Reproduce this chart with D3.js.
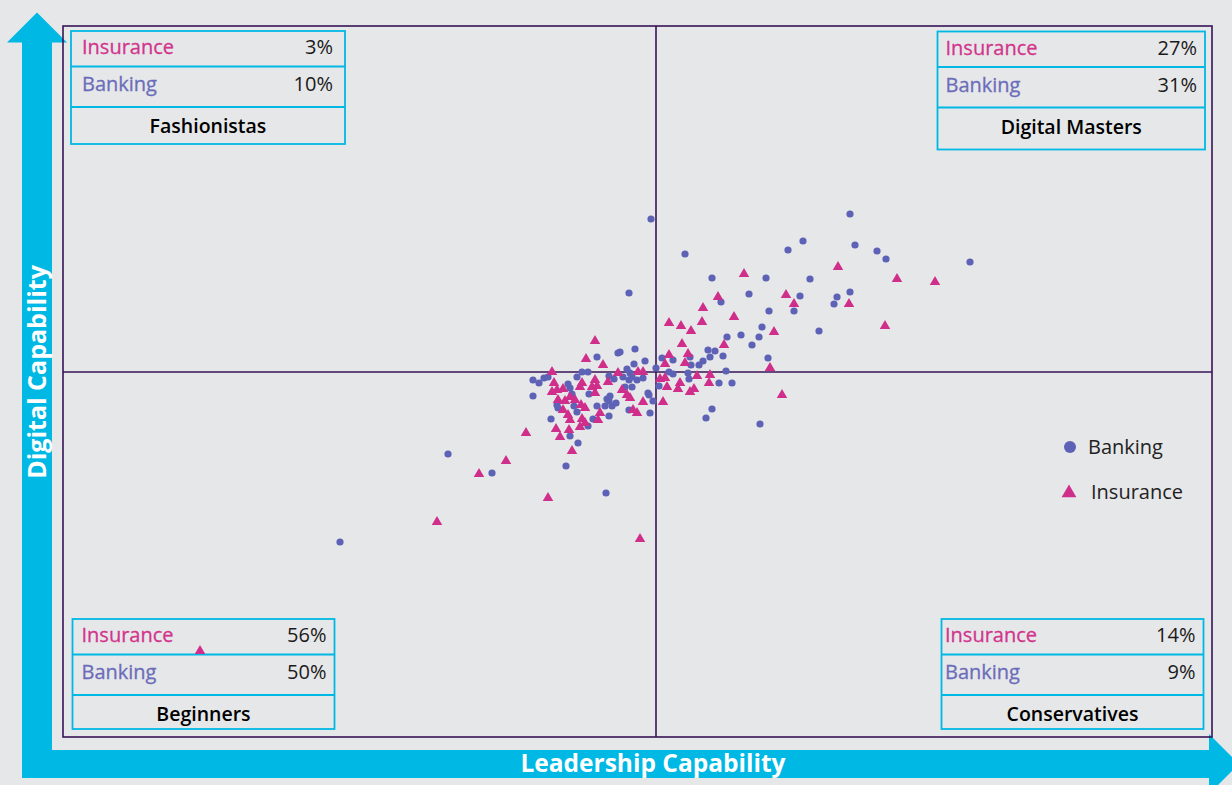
<!DOCTYPE html>
<html>
<head>
<meta charset="utf-8">
<script src="https://cdn.jsdelivr.net/npm/d3@7"></script>
<style>
  html, body { margin: 0; padding: 0; background: #e6e7e9; }
  svg { display: block; }
  text { font-family: "Open Sans", "Noto Sans", sans-serif; }
</style>
</head>
<body>
<svg id="chart" width="1232" height="785"></svg>
<script>
// ---------------- DATA ----------------
// Axis domains (index scores; 0 = quadrant divider)
const xDomain = [-59.3, 55.6];   // Leadership Capability
const yDomain = [-36.5, 34.6];   // Digital Capability
const xDivider = 0;
const yDivider = 0;

const axisLabelX = "Leadership Capability";
const axisLabelY = "Digital Capability";

const seriesNames = ["Banking", "Insurance"];

// Quadrants: order TL, TR, BL, BR
const quadrantNames = ["Fashionistas", "Digital Masters", "Beginners", "Conservatives"];
const insuranceShare = [3, 27, 56, 14];
const bankingShare = [10, 31, 50, 9];

// Banking firms: [leadership, digital]
const bankingX = [-0.5,19.4,14.7,13.2,19.9,22.1,23.0,31.4,2.9,5.6,11.0,15.4,9.3,14.4,18.1,19.4,17.8,6.5,13.8,11.3,
  10.6,16.3,10.3,8.5,7.1,9.6,5.2,5.9,6.7,5.4,11.2,4.7,4.3,3.5,3.4,1.7,0.6,-1.1,0.0,1.3,
  1.7,3.2,7.0,3.3,6.3,7.6,-1.3,0.3,-0.8,-0.7,-0.3,-0.6,5.6,5.0,10.4,-20.8,-16.4,-9.0,-7.8,-8.6,
  -10.5,-12.3,-12.3,-11.7,-11.2,-10.8,-9.8,-8.8,-8.6,-7.9,-7.4,-6.8,-5.9,-3.8,-3.6,-2.1,-2.2,-2.9,-2.6,-3.3,
  -2.7,-2.4,-1.9,-4.7,-4.2,-8.4,-8.2,-7.9,-6.7,-5.9,-5.1,-4.9,-4.6,-4.7,-4.4,-4.0,-4.7,-6.3,-6.8,-2.4,
  -3.1,-2.7,-9.9,-31.6,-5.0,-2.7];
const bankingY = [15.3,15.8,13.1,12.2,12.7,12.1,11.3,11.0,11.8,9.4,9.4,9.3,7.8,7.6,7.5,8.0,6.8,7.0,6.1,6.1,
  4.5,4.1,3.5,3.7,3.5,2.7,2.2,2.1,1.6,1.5,1.4,1.1,0.7,0.7,1.5,1.2,1.4,1.1,0.4,0.0,
  -0.2,-0.1,0.1,-0.7,-1.1,-1.1,-0.6,-1.4,-2.1,-2.3,-2.9,-4.1,-3.7,-4.6,-5.2,-8.2,-10.1,-9.4,-7.1,-6.4,
  -4.7,-2.4,-0.8,-1.1,-0.6,-0.5,-3.6,-1.2,-1.6,-0.5,0.0,0.0,1.5,1.9,2.0,2.3,0.8,0.3,-0.1,-0.5,
  -0.8,-0.5,-0.8,-0.4,-0.7,-2.2,-3.4,-4.0,-2.2,-3.4,-3.4,-2.7,-2.4,-2.9,-3.4,-3.1,-4.4,-4.7,-5.4,-1.5,
  -1.5,-3.8,-3.3,-17.0,-12.1,7.9];

// Insurance firms: [leadership, digital]
const insuranceX = [8.8,18.2,24.1,27.9,6.2,13.0,13.8,19.3,4.7,7.8,22.9,1.3,2.5,3.5,4.6,11.8,2.6,6.8,3.2,1.3,
  2.9,0.9,11.4,-1.3,4.1,5.4,0.4,0.9,2.4,1.1,2.2,5.3,3.8,3.4,12.6,-1.3,0.7,
  -6.1,-7.0,-5.3,-10.4,-10.2,-9.9,-10.4,-9.3,-9.8,-9.1,-8.6,-8.1,-7.6,-7.4,-6.1,-5.9,-6.1,-6.4,-4.8,-3.8,
  -3.4,-2.9,-2.6,-1.8,-7.5,-7.1,-9.3,-5.6,-5.8,-2.3,-1.9,-8.8,-8.6,-7.4,-7.6,-7.1,-10.0,-9.6,-8.7,-13.0,
  -8.4,-15.0,-17.7,-21.9,-10.8,-1.6,-45.6];
const insuranceY = [9.8,10.5,9.3,9.0,7.5,7.7,6.8,6.8,6.4,5.5,4.6,4.9,4.6,4.1,5.0,4.0,2.8,2.7,1.8,1.7,
  0.9,0.8,0.4,0.0,-0.4,-0.3,-0.7,-0.6,-1.1,-1.5,-1.7,-1.1,-1.7,-2.0,-2.3,-3.0,-3.0,
  3.1,1.3,0.7,0.0,-1.1,-1.8,-2.0,-1.7,-2.8,-2.9,-2.5,-2.8,-1.5,-1.1,-0.8,-1.4,-2.1,-1.5,-1.0,-0.1,
  -1.8,-2.3,-2.6,0.0,-3.3,-3.6,-3.8,-4.1,-4.8,-3.8,-4.1,-4.3,-4.8,-4.7,-5.5,-5.1,-5.7,-6.5,-5.8,-6.1,
  -7.9,-8.9,-10.2,-15.0,-12.6,-16.7,-27.9];

// ---------------- STYLE / LAYOUT ----------------
const W = 1232, H = 785;
const plot = { left: 63, top: 26, right: 1212, bottom: 737 };
const COL = {
  bg: "#e6e7e9",
  cyan: "#00b8e4",
  frame: "#371556",
  banking: "#5d62b6",
  insurance: "#cf2e8a",
  bankingText: "#6b6db9",
  insuranceText: "#d2358c",
  text: "#1a1a1a"
};

const svg = d3.select("#chart");
svg.append("rect").attr("width", W).attr("height", H).attr("fill", COL.bg);

const x = d3.scaleLinear().domain(xDomain).range([plot.left, plot.right]);
const y = d3.scaleLinear().domain(yDomain).range([plot.bottom, plot.top]);

// ---- Arrows ----
const arrows = svg.append("g");
arrows.append("rect").attr("x", 22).attr("y", 41).attr("width", 30).attr("height", 737).attr("fill", COL.cyan);
arrows.append("path").attr("d", "M7,42.5 L67,42.5 L37,12.5 Z").attr("fill", COL.cyan);
arrows.append("rect").attr("x", 22).attr("y", 750).attr("width", 1190).attr("height", 28).attr("fill", COL.cyan);
arrows.append("path").attr("d", "M1209,734 L1209,794 L1239,764 Z").attr("fill", COL.cyan);

arrows.append("text")
  .attr("x", 653).attr("y", 772)
  .attr("text-anchor", "middle")
  .attr("fill", "#fff").attr("font-weight", 700).attr("font-size", 24.5)
  .text(axisLabelX);
arrows.append("text")
  .attr("transform", "translate(46,372) rotate(-90)")
  .attr("text-anchor", "middle")
  .attr("fill", "#fff").attr("font-weight", 700).attr("font-size", 25)
  .text(axisLabelY);

// ---- Plot frame & dividers ----
const g = svg.append("g");
g.append("rect")
  .attr("x", plot.left).attr("y", plot.top)
  .attr("width", plot.right - plot.left).attr("height", plot.bottom - plot.top)
  .attr("fill", "none").attr("stroke", COL.frame).attr("stroke-width", 1.6);
g.append("line")
  .attr("x1", x(xDivider)).attr("x2", x(xDivider))
  .attr("y1", plot.top).attr("y2", plot.bottom)
  .attr("stroke", COL.frame).attr("stroke-width", 1.6);
g.append("line")
  .attr("x1", plot.left).attr("x2", plot.right)
  .attr("y1", y(yDivider)).attr("y2", y(yDivider))
  .attr("stroke", COL.frame).attr("stroke-width", 1.6);

// ---- Quadrant boxes ----
const boxLayout = [
  { x: 71, y: 31, w: 274, h: 113, padL: 11, padR: 12 },
  { x: 937.5, y: 31.5, w: 267.5, h: 118, padL: 8, padR: 8 },
  { x: 72.5, y: 619, w: 262, h: 110, padL: 9, padR: 8 },
  { x: 941.5, y: 619, w: 262, h: 110, padL: 3.5, padR: 8 }
];
quadrantNames.forEach((name, i) => {
  const b = boxLayout[i];
  const bg = g.append("g");
  bg.append("rect").attr("x", b.x).attr("y", b.y).attr("width", b.w).attr("height", b.h)
    .attr("fill", COL.bg).attr("stroke", COL.cyan).attr("stroke-width", 1.8);
  [35.5, 76].forEach(dy => {
    bg.append("line").attr("x1", b.x).attr("x2", b.x + b.w)
      .attr("y1", b.y + dy).attr("y2", b.y + dy)
      .attr("stroke", COL.cyan).attr("stroke-width", 1.8);
  });
  const rows = [
    { label: seriesNames[1], val: insuranceShare[i], col: COL.insuranceText, dy: 23 },
    { label: seriesNames[0], val: bankingShare[i], col: COL.bankingText, dy: 60 }
  ];
  rows.forEach(r => {
    bg.append("text").attr("x", b.x + b.padL).attr("y", b.y + r.dy)
      .attr("font-size", 20).attr("font-weight", 500).attr("fill", r.col)
      .attr("stroke", r.col).attr("stroke-width", 0.3).text(r.label);
    bg.append("text").attr("x", b.x + b.w - b.padR).attr("y", b.y + r.dy)
      .attr("text-anchor", "end").attr("font-size", 20).attr("fill", COL.text).text(r.val + "%");
  });
  bg.append("text").attr("x", b.x + b.w / 2).attr("y", b.y + 102)
    .attr("text-anchor", "middle").attr("font-size", 19.5).attr("font-weight", 600)
    .attr("fill", "#000").text(name);
});

// ---- Points ----
const bankingPts = bankingX.map((v, i) => ({ x: v, y: bankingY[i] }));
const insurancePts = insuranceX.map((v, i) => ({ x: v, y: insuranceY[i] }));

g.append("g").selectAll("circle").data(bankingPts).join("circle")
  .attr("cx", d => x(d.x)).attr("cy", d => y(d.y)).attr("r", 3.6)
  .attr("fill", COL.banking);

const tri = d3.symbol().type(d3.symbolTriangle).size(48);
g.append("g").selectAll("path").data(insurancePts).join("path")
  .attr("transform", d => `translate(${x(d.x)},${y(d.y)})`)
  .attr("d", tri).attr("fill", COL.insurance);

// ---- Legend ----
const lg = svg.append("g");
lg.append("circle").attr("cx", 1070).attr("cy", 447).attr("r", 6).attr("fill", COL.banking);
lg.append("text").attr("x", 1088).attr("y", 454).attr("font-size", 20).attr("fill", "#222").text(seriesNames[0]);
lg.append("path").attr("transform", "translate(1069,493)")
  .attr("d", d3.symbol().type(d3.symbolTriangle).size(95)).attr("fill", COL.insurance);
lg.append("text").attr("x", 1091).attr("y", 499).attr("font-size", 20).attr("fill", "#222").text(seriesNames[1]);
</script>
</body>
</html>
